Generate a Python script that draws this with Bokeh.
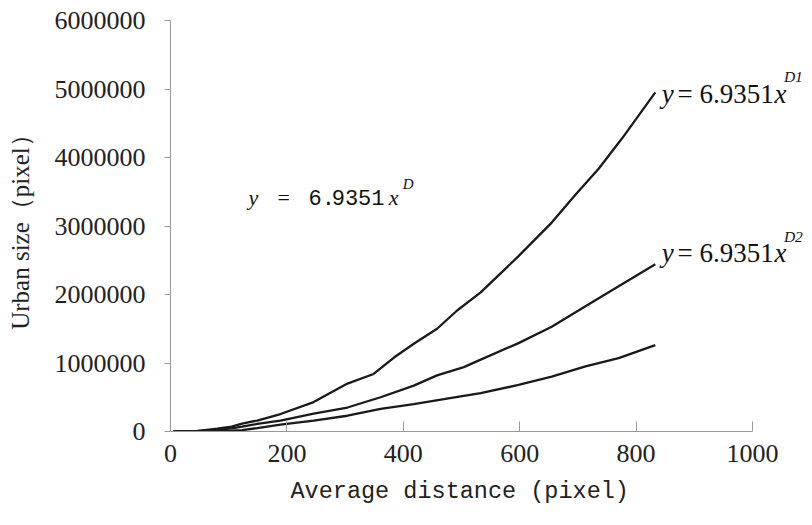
from bokeh.plotting import figure
from bokeh.models import Label, FixedTicker, BasicTickFormatter, Range1d, Title
from bokeh.embed import file_html
from bokeh.resources import INLINE

# ---- data ----
dist_d1 = [5, 40, 80, 105, 123, 149, 189, 246, 304, 349, 384, 418, 458, 493, 533, 598, 655, 695, 736, 776, 833]
size_d1 = [0, 3000, 40000, 70000, 115000, 160000, 255000, 430000, 700000, 840000, 1080000, 1280000, 1500000,
           1770000, 2030000, 2560000, 3050000, 3450000, 3840000, 4280000, 4950000]

dist_d = [5, 40, 80, 105, 123, 149, 189, 246, 304, 361, 418, 458, 504, 533, 598, 655, 713, 770, 833]
size_d = [0, 2000, 25000, 45000, 70000, 110000, 160000, 260000, 350000, 500000, 670000, 820000, 940000,
          1050000, 1290000, 1530000, 1830000, 2120000, 2440000]

dist_d2 = [5, 40, 80, 105, 123, 149, 189, 246, 304, 361, 418, 475, 533, 598, 655, 713, 770, 833]
size_d2 = [0, 1000, 8000, 12000, 20000, 50000, 100000, 160000, 230000, 330000, 400000, 480000, 560000,
           680000, 800000, 950000, 1070000, 1260000]

x_ticks = [0, 200, 400, 600, 800, 1000]
y_ticks = [0, 1000000, 2000000, 3000000, 4000000, 5000000, 6000000]

SERIF = "Liberation Serif"
MONO = "Liberation Mono"
INK = "#111111"

LEFT = 170
WIDTH = 804
PX_PER_UNIT = 0.582
x_end = (WIDTH - LEFT) / PX_PER_UNIT

p = figure(width=WIDTH, height=517, output_backend="svg", toolbar_location=None,
           x_range=Range1d(0, x_end), y_range=Range1d(0, 6000000),
           min_border_left=LEFT, min_border_right=0, min_border_top=20, min_border_bottom=86)
p.outline_line_color = None
p.xgrid.grid_line_color = None
p.ygrid.grid_line_color = None
p.background_fill_color = "white"

for xs, ys in [(dist_d1, size_d1), (dist_d, size_d), (dist_d2, size_d2)]:
    p.line(xs, ys, line_color="#1a1a1a", line_width=2.3)

# x axis
xa = p.xaxis[0]
xa.bounds = (0, 1000)
xa.ticker = FixedTicker(ticks=x_ticks)
xa.axis_line_color = "#999999"
xa.major_tick_line_color = "#999999"
xa.major_tick_in = 10
xa.major_tick_out = 0
xa.minor_tick_line_color = None
xa.major_label_text_font = SERIF
xa.major_label_text_font_size = "26px"
xa.major_label_text_color = "#222222"
xa.major_label_standoff = 13

xtitle = Title(text="Average distance (pixel)", align="left", offset=120,
               text_font=MONO, text_font_style="normal", text_font_size="23.5px",
               text_color="#222222", standoff=23)
p.add_layout(xtitle, "below")

# y axis
ya = p.yaxis[0]
ya.ticker = FixedTicker(ticks=y_ticks)
ya.formatter = BasicTickFormatter(use_scientific=False)
ya.axis_line_color = "#999999"
ya.major_tick_line_color = "#999999"
ya.major_tick_in = 0
ya.major_tick_out = 6
ya.minor_tick_line_color = None
ya.major_label_text_font = SERIF
ya.major_label_text_font_size = "26px"
ya.major_label_text_color = "#222222"
ya.major_label_standoff = 19
ya.axis_label = "Urban size（pixel）"
ya.axis_label_text_font = SERIF
ya.axis_label_text_font_style = "normal"
ya.axis_label_text_font_size = "25px"
ya.axis_label_text_color = "#222222"
ya.axis_label_standoff = 18


def lab(x, y, text, font, size, style="normal"):
    p.add_layout(Label(x=x, y=y, text=text, text_font=font, text_font_size=size,
                       text_font_style=style, text_color=INK, text_baseline="alphabetic"))


# right-hand equations
for base, sup_base, sup in [(4934000, 5180000, "D1"), (2600000, 2850000, "D2")]:
    lab(844, base, "y", SERIF, "27px", "italic")
    lab(871, base, "= 6.9351", SERIF, "27px")
    lab(1038, base, "x", SERIF, "27px", "italic")
    lab(1054, sup_base, sup, SERIF, "15.5px", "italic")

# central equation
lab(134, 3416000, "y", SERIF, "22px", "italic")
lab(184, 3416000, "=", SERIF, "22px")
lab(237, 3416000, "6.", MONO, "22px")
lab(277, 3416000, "9351", MONO, "22px")
lab(375, 3416000, "x", SERIF, "22px", "italic")
lab(399, 3606000, "D", SERIF, "15px", "italic")

open("out.html", "w").write(file_html(p, INLINE))
